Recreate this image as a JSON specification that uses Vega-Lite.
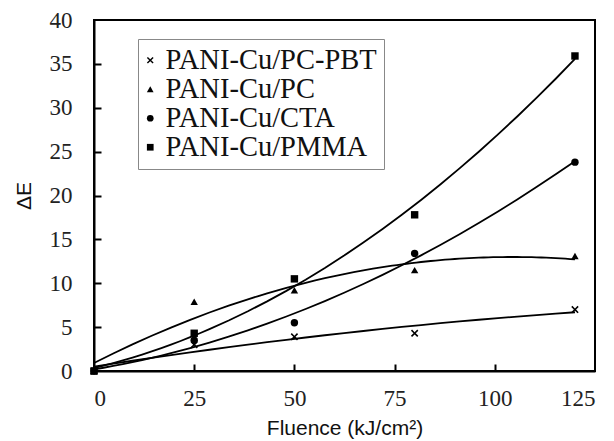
{
  "$schema": "https://vega.github.io/schema/vega-lite/v6.json",
  "width": 501,
  "height": 351,
  "autosize": "none",
  "padding": {"left": 94, "top": 20, "right": 19, "bottom": 70},
  "background": "white",
  "config": {
    "view": {"stroke": "black", "strokeWidth": 2},
    "axis": {
      "grid": false,
      "domainColor": "black",
      "domainWidth": 2,
      "tickColor": "black",
      "tickWidth": 2,
      "labelFont": "Liberation Serif",
      "labelFontSize": 23,
      "labelColor": "#222",
      "titleFont": "Liberation Sans",
      "titleFontWeight": "normal",
      "titleFontSize": 21,
      "titleColor": "#111"
    }
  },
  "data": {
    "values": [
      {"series": "PANI-Cu/PC-PBT", "fluence": 0, "dE": 0},
      {"series": "PANI-Cu/PC-PBT", "fluence": 25, "dE": 3.0},
      {"series": "PANI-Cu/PC-PBT", "fluence": 50, "dE": 3.9},
      {"series": "PANI-Cu/PC-PBT", "fluence": 80, "dE": 4.3},
      {"series": "PANI-Cu/PC-PBT", "fluence": 120, "dE": 7.0},
      {"series": "PANI-Cu/PC", "fluence": 0, "dE": 0},
      {"series": "PANI-Cu/PC", "fluence": 25, "dE": 7.9},
      {"series": "PANI-Cu/PC", "fluence": 50, "dE": 9.2},
      {"series": "PANI-Cu/PC", "fluence": 80, "dE": 11.5},
      {"series": "PANI-Cu/PC", "fluence": 120, "dE": 13.1},
      {"series": "PANI-Cu/CTA", "fluence": 0, "dE": 0},
      {"series": "PANI-Cu/CTA", "fluence": 25, "dE": 3.5},
      {"series": "PANI-Cu/CTA", "fluence": 50, "dE": 5.5},
      {"series": "PANI-Cu/CTA", "fluence": 80, "dE": 13.4},
      {"series": "PANI-Cu/CTA", "fluence": 120, "dE": 23.8},
      {"series": "PANI-Cu/PMMA", "fluence": 0, "dE": 0},
      {"series": "PANI-Cu/PMMA", "fluence": 25, "dE": 4.3},
      {"series": "PANI-Cu/PMMA", "fluence": 50, "dE": 10.5},
      {"series": "PANI-Cu/PMMA", "fluence": 80, "dE": 17.8},
      {"series": "PANI-Cu/PMMA", "fluence": 120, "dE": 35.9}
    ]
  },
  "resolve": {"axis": {"x": "independent", "y": "independent"}},
  "layer": [
    {
      "transform": [
        {"regression": "dE", "on": "fluence", "groupby": ["series"], "method": "poly", "order": 2, "extent": [0, 120]}
      ],
      "mark": {"type": "line", "color": "black", "strokeWidth": 1.8},
      "encoding": {
        "x": {"field": "fluence", "type": "quantitative", "scale": {"domain": [0, 125], "nice": false}, "axis": {"orient": "bottom", "values": [0, 25, 50, 75, 100, 125], "ticks": false, "title": "Fluence (kJ/cm²)", "labelPadding": 16, "titlePadding": 7}},
        "y": {"field": "dE", "type": "quantitative", "scale": {"domain": [0, 40], "nice": false}, "axis": {"orient": "left", "values": [0, 5, 10, 15, 20, 25, 30, 35, 40], "ticks": false, "title": "ΔE", "labelPadding": 22, "titlePadding": 15}},
        "detail": {"field": "series"}
      }
    },
    {
      "mark": {"type": "point", "filled": true, "opacity": 1, "color": "black", "size": 55},
      "encoding": {
        "x": {"field": "fluence", "type": "quantitative", "axis": {"orient": "bottom", "offset": -7, "values": [25, 50, 75, 100], "domain": false, "labels": false, "title": null, "tickSize": 7, "zindex": 1}},
        "y": {"field": "dE", "type": "quantitative", "axis": {"orient": "left", "offset": -7, "values": [5, 10, 15, 20, 25, 30, 35], "domain": false, "labels": false, "title": null, "tickSize": 7, "zindex": 1}},
        "shape": {
          "field": "series",
          "type": "nominal",
          "scale": {
            "domain": ["PANI-Cu/PC-PBT", "PANI-Cu/PC", "PANI-Cu/CTA", "PANI-Cu/PMMA"],
            "range": ["M-1,-0.7L-0.7,-1L0,-0.3L0.7,-1L1,-0.7L0.3,0L1,0.7L0.7,1L0,0.3L-0.7,1L-1,0.7L-0.3,0Z", "triangle-up", "circle", "square"]
          },
          "legend": {
            "title": null,
            "orient": "none",
            "legendX": 44,
            "legendY": 19,
            "padding": 7,
            "strokeColor": "#888",
            "fillColor": "white",
            "labelFont": "Liberation Serif",
            "labelFontSize": 28.5,
            "labelColor": "#111",
            "labelOffset": 1,
            "symbolOffset": -9,
            "symbolSize": 45,
            "symbolFillColor": "black",
            "symbolStrokeColor": "black",
            "symbolOpacity": 1,
            "rowPadding": 0,
            "labelLimit": 400
          }
        }
      }
    }
  ]
}
